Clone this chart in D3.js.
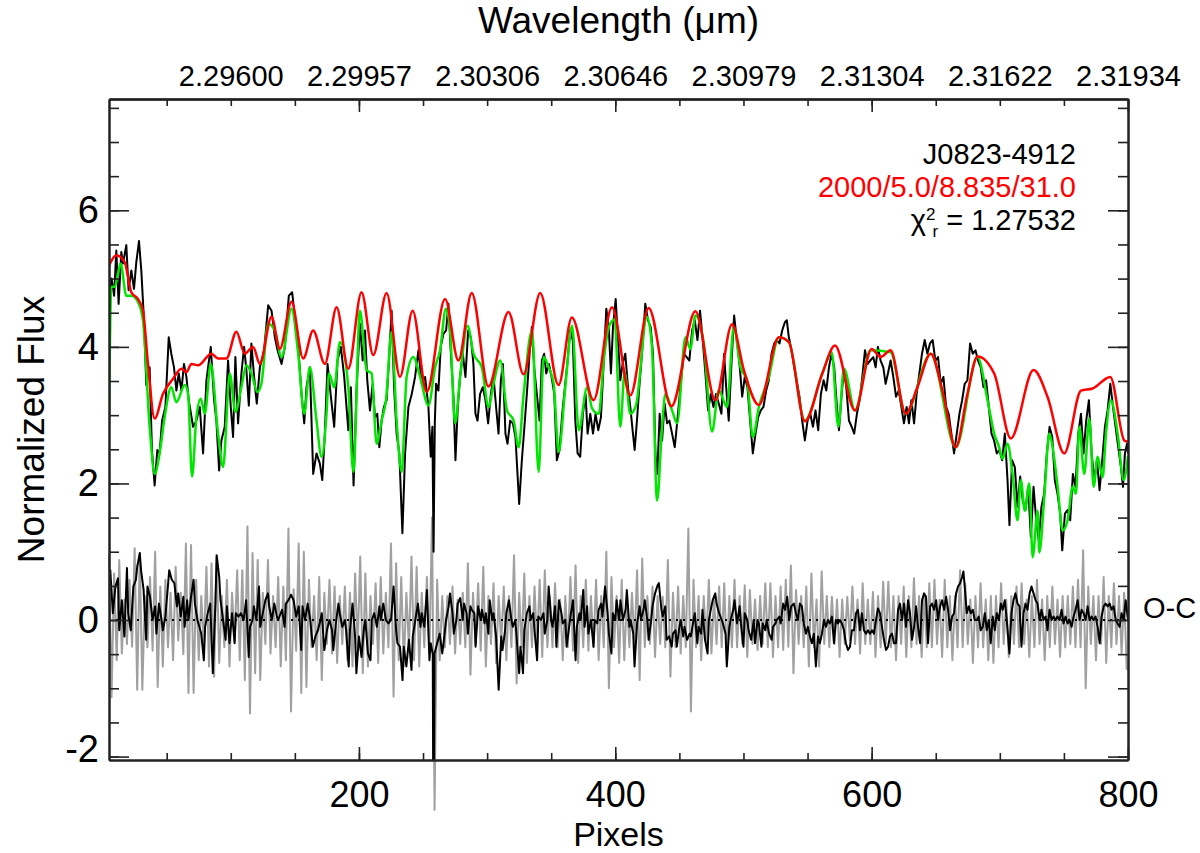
<!DOCTYPE html>
<html>
<head>
	<meta charset="utf-8">
	<title>J0823-4912 spectral fit</title>
	<style type="text/css">
		body{ margin:0; background:#fff; }
		.spec text{ font-family:"Liberation Sans", Arial, Helvetica, sans-serif; fill:#000; }
	</style>
</head>
<body>

	<svg width=1200 height=853 class="spec"></svg>
	<script type="text/javascript" src="https://cdn.jsdelivr.net/npm/d3@7/dist/d3.min.js"></script>
	<script type="text/javascript">

		// ---- axis set-up values ----
		pixelDomain = [5, 800]
		fluxDomain = [-2.05, 7.63]
		pixelMajor = [200, 400, 600, 800]
		fluxMajor = [-2, 0, 2, 4, 6]
		topLabelPixels = [100, 200, 300, 400, 500, 600, 700, 800]
		topLabelWaves = ['2.29600', '2.29957', '2.30306', '2.30646', '2.30979', '2.31304', '2.31622', '2.31934']

		// ---- text ----
		objectName = 'J0823-4912'
		modelParams = '2000/5.0/8.835/31.0'
		chiValue = '1.27532'

		// ---- series : [pixel, normalized flux] ----
		modelRed = [[5,5.19],[10.7,5.34],[17.2,5.24],[22.4,4.8],[27.6,4.7],[31.5,4.53],[35.4,3.75],[40.6,2.95],[47.1,3.31],[54.9,3.53],
			[61.5,3.68],[65.4,3.63],[69.3,3.75],[74.5,3.73],[84.9,3.9],[90.1,3.83],[96.6,3.83],[104.4,4.22],[110.9,3.9],[117.4,4.0],
			[122.7,3.75],[131.8,4.44],[138.3,3.97],[147.4,4.66],[156.5,3.83],[164.3,4.24],[173.4,3.75],[182.6,4.58],[191.7,3.68],[202,4.8],
			[211.2,3.88],[221.6,4.79],[232,3.56],[241.9,4.53],[252.9,3.34],[267.2,4.7],[277.6,3.8],[288,4.79],[301,3.42],[316.7,4.51],
			[328.4,3.6],[341.4,4.79],[355.7,3.44],[366.1,4.43],[383.1,3.22],[397.4,4.58],[411.7,3.29],[426,4.57],[443.8,3.13],[462.5,4.52],
			[478.1,3.22],[491.1,4.33],[500.3,3.66],[512,3.15],[527.6,4.14],[535.4,4.07],[547.9,2.91],[561.5,3.61],[571.4,4.02],[587,3.07],
			[600,3.97],[607,3.85],[614.8,3.95],[626.5,3.02],[635.7,3.41],[646.1,3.9],[655.2,3.36],[665.6,2.53],[674.7,3.31],[682.6,3.86],
			[695.6,3.61],[708.6,2.66],[726.3,3.66],[737.2,3.27],[750.3,2.44],[763.3,3.36],[772.4,3.39],[786.2,3.56],[797.1,2.63],[800,2.61]]

		fitGreen = [[5,2.88],[6.8,4.88],[9.4,4.88],[14.1,5.22],[18.5,4.75],[22.4,4.75],[27.6,4.66],[31.5,4.39],[36.7,2.83],[40.6,2.14],
			[44.5,2.44],[48.4,2.97],[53.6,3.41],[57.6,3.19],[64.1,3.44],[66.7,3.31],[69.8,2.1],[73.2,2.97],[76.6,3.24],[79.7,3.02],
			[84.4,3.75],[90.1,2.73],[94,2.24],[99.2,3.61],[103.6,3.05],[108.3,3.41],[112.2,3.73],[116.1,3.61],[120.8,3.34],[123.9,3.46],
			[129.2,4.34],[134.4,4.24],[139.6,3.85],[147.4,4.56],[152.6,3.9],[157.3,3.02],[161.7,3.7],[166.9,2.92],[170.8,2.39],[174.7,3.02],
			[176.6,3.61],[180.7,3.41],[185.2,4.07],[191.7,3.41],[195.6,2.17],[200.8,4.53],[206,3.66],[209.9,3.61],[213.8,2.58],[217.7,2.92],
			[221.1,3.22],[225.5,4.22],[229.4,2.92],[233.3,2.17],[237.2,3.56],[242.4,3.85],[247.7,3.56],[254.2,3.14],[259.4,3.7],[263.3,3.95],
			[267.8,4.56],[271.1,4.24],[275,2.88],[278.9,3.56],[284.7,4.31],[289.4,3.9],[295.9,3.7],[301.1,3.12],[305,3.46],[310.2,3.8],
			[315.5,3.07],[320.7,2.92],[324.6,2.53],[328.5,3.31],[335,4.24],[340.2,2.17],[344.1,3.85],[348,3.7],[351.9,3.46],[355.8,2.46],
			[361,3.41],[366.3,4.31],[371.5,2.78],[378,3.41],[381.9,3.1],[387.1,3.02],[391,3.8],[394.9,4.29],[399.5,4.4],[403.9,2.83],
			[407.3,3.63],[411.7,3.02],[416.1,3.14],[424.7,4.44],[428.6,4.0],[432.6,1.75],[436.5,2.83],[439.1,3.31],[444.3,3.07],[448.2,2.88],
			[454.7,4.14],[458.6,3.97],[462.5,4.46],[469,4.05],[475.5,2.76],[480.7,3.36],[487.2,3.12],[492.4,4.29],[497.7,3.7],[502.9,3.51],
			[507.3,2.68],[512,3.12],[519.8,3.56],[527.6,4.14],[535.4,4.07],[547.9,2.92],[561.5,3.61],[568.8,3.92],[574,2.83],[578.4,3.68],
			[587,3.07],[599.2,3.95],[614.8,3.92],[626.5,3.02],[646.1,3.9],[665.6,2.53],[682.6,3.85],[690.4,3.22],[695.6,2.73],[699.5,2.53],
			[702.1,2.36],[706,2.58],[709.9,2.14],[713.8,1.46],[716.4,2.05],[719.5,1.6],[723,2.0],[725.6,0.92],[729.5,1.6],[730.8,0.99],
			[734.7,1.8],[738.6,2.73],[741.2,2.53],[745.1,1.95],[749,1.31],[752.9,1.46],[756.8,1.95],[759.4,1.85],[762,2.83],[765.9,2.14],
			[769.8,2.95],[773.2,1.95],[776.3,2.39],[780.2,2.09],[782.8,2.73],[786.7,3.22],[791.9,2.73],[796.6,2.05],[800,2.4]]

		observed = [[5,4.7],[7,5.0],[9,4.75],[10.7,5.41],[12.5,4.63],[14.6,5.39],[15.9,5.22],[18.5,5.49],[20.3,4.83],[22.4,5.12],
			[24.5,4.85],[26.3,5.24],[28.4,5.55],[30.2,5.12],[32.3,4.39],[34.1,3.44],[36.7,3.7],[38.5,2.49],[40.6,1.97],[42.7,2.49],
			[44.5,2.44],[46.4,2.92],[49,3.12],[51.6,4.14],[53.6,3.9],[55.7,3.7],[57.6,3.36],[59.4,3.61],[61.5,3.36],[63.5,3.75],
			[65.4,3.56],[67.2,3.22],[70.6,2.83],[73.2,2.92],[75.8,3.12],[78.4,2.44],[81,3.51],[84.4,4.0],[87,3.22],[88.8,2.92],
			[90.9,2.19],[92.7,2.63],[95.3,2.83],[97.9,3.8],[100,3.12],[101.8,2.68],[103.6,3.85],[105.7,2.88],[108.3,3.61],[110.4,4.0],
			[112.2,3.66],[114.1,3.14],[116.1,4.05],[118.2,3.56],[120.3,3.17],[122.7,3.7],[126,3.95],[129.2,4.61],[131.8,4.53],[134.4,4.14],
			[136.5,3.95],[139.6,3.75],[142.2,4.0],[145.3,4.75],[147.9,4.8],[150,4.44],[152.6,4.0],[155.2,3.31],[157.3,2.88],[159.1,3.41],
			[161.7,3.7],[164.3,2.14],[166.9,2.44],[169.5,2.29],[171.4,2.05],[173.4,2.73],[175.5,3.75],[178.1,3.27],[180.7,2.83],[183.3,3.8],
			[185.9,4.0],[188.5,3.56],[191.7,2.78],[193.7,3.41],[195.8,1.97],[198.2,3.41],[200.8,4.34],[202.9,3.8],[204.7,4.24],[206.5,3.51],
			[208.6,3.07],[210.7,3.46],[212.5,2.97],[214.3,3.02],[215.9,2.53],[217.7,2.92],[219.5,3.12],[221.6,3.22],[223.7,3.9],[225.5,4.53],
			[227.4,3.41],[229.4,2.73],[231.5,2.44],[233.9,1.27],[236,2.44],[238.6,3.12],[241.2,3.31],[243.8,3.56],[246.4,3.95],[249,3.46],
			[251.6,3.56],[254.2,3.12],[256,2.39],[257.3,2.83],[258.2,1.0],[259.2,2.9],[260.2,3.46],[262,3.36],[263.8,4.0],[265.9,4.19],
			[268,4.24],[269.8,4.63],[271.6,3.95],[273.7,3.27],[275.3,2.34],[277.1,3.12],[278.9,3.56],[281,3.9],[283.1,3.56],[285.2,4.24],
			[287.3,4.14],[289.3,3.75],[290.9,3.02],[292.5,2.92],[294.5,3.31],[296.6,3.41],[298.7,3.22],[300.8,2.88],[302.9,3.31],[305,3.56],
			[307,3.12],[308.9,2.73],[310.7,3.51],[312.3,3.75],[314.3,2.73],[315.9,2.58],[318,2.92],[320.1,2.88],[322.1,2.68],[325,1.7],
			[327.1,2.34],[328.9,2.78],[331,3.31],[333.1,3.9],[334.9,4.29],[336.7,3.7],[338.8,3.31],[340.9,2.92],[342.7,3.8],[344.5,3.9],
			[346.1,3.61],[348.2,3.75],[350.3,3.56],[352.4,3.31],[354.4,2.34],[356.5,2.49],[358.6,3.02],[360.7,3.41],[362.8,3.8],[364.8,4.24],
			[366.9,4.09],[368.8,2.92],[370.6,2.44],[372.6,2.39],[374.7,3.02],[376.8,3.31],[378.4,2.73],[380.5,3.02],[382.6,2.73],[384.6,3.02],
			[386.7,2.78],[388.8,2.97],[390.9,3.75],[393,4.56],[395,4.24],[396.6,3.61],[398.2,4.29],[400.3,4.7],[402.1,4.1],[403.9,3.51],
			[405.7,3.75],[407.8,3.9],[409.9,3.41],[411.7,3.12],[413.5,2.78],[415.1,2.49],[416.9,2.92],[418.7,3.41],[420.8,3.9],[423.4,4.63],
			[425.5,4.39],[427.6,4.29],[429.4,3.9],[431.3,2.44],[432.8,2.14],[434.6,3.02],[436.5,2.63],[438.5,3.17],[440.4,2.88],[442.2,2.92],
			[444.3,2.73],[446.4,2.53],[448.4,2.92],[450.8,3.41],[453.4,3.9],[455.7,3.85],[457.8,3.8],[459.9,4.24],[462,4.39],[464.1,4.1],
			[466.1,4.53],[468.2,4.1],[470.3,3.61],[472.4,3.07],[474.5,3.31],[476.6,3.12],[478.6,3.31],[480.7,3.17],[482.8,3.02],[484.9,3.9],
			[486.5,3.41],[488.5,2.92],[490.6,3.75],[492.7,4.46],[494.8,4.1],[496.9,3.75],[499,3.27],[501,3.56],[503.1,3.41],[505.2,2.92],
			[507.3,2.44],[509.4,2.73],[511.5,2.97],[513.5,3.07],[515.6,3.12],[517.7,3.36],[519.8,3.51],[521.9,3.9],[524,4.05],[526,4.1],
			[528.1,4.05],[530.2,4.24],[532.3,4.36],[533.8,4.39],[535.4,4.14],[537.5,3.95],[539.6,3.7],[541.9,3.46],[543.7,3.27],[545.8,2.92],
			[547.9,2.63],[550,2.92],[552.1,3.02],[554.2,2.83],[556.2,3.07],[558.3,2.78],[560.4,3.31],[562.5,3.51],[564.6,3.36],[566.7,3.7],
			[568.7,3.9],[570.8,3.7],[572.9,3.12],[574.5,2.78],[576.6,3.31],[578.4,3.68],[580.2,3.41],[582.3,2.92],[584.4,2.83],[586.4,2.73],
			[588.5,3.02],[590.6,3.22],[592.7,3.56],[594.8,3.95],[596.9,3.75],[598.9,3.8],[601.3,3.85],[603.1,3.7],[604.9,4.0],[607,3.8],
			[609.1,3.7],[610.9,3.46],[612.7,3.61],[614.8,3.8],[616.9,3.56],[619,3.27],[621.1,3.36],[623.2,3.12],[625.2,2.88],[627.3,3.12],
			[629.1,2.88],[631,3.22],[633.1,2.88],[635.1,3.31],[637.2,3.61],[639.3,3.9],[641.4,4.1],[643.5,3.9],[645.5,4.05],[647.6,4.1],
			[649.7,3.8],[651.8,3.85],[653.9,3.46],[656,3.56],[658.1,3.12],[660.1,3.02],[662.2,2.73],[664.3,2.44],[666.4,2.73],[668.5,3.02],
			[670.6,3.22],[672.6,3.46],[674.7,3.51],[676.8,4.05],[678.9,3.9],[681,3.95],[683,3.8],[685.1,3.7],[687.2,3.41],[689.3,3.51],
			[691.4,3.12],[693.5,2.73],[695.5,2.63],[697.6,2.44],[699.7,2.49],[701.8,2.34],[703.9,2.73],[706,2.05],[707.5,1.39],[709.6,2.34],
			[711.7,2.24],[713.8,1.66],[715.9,2.1],[717.9,1.75],[720,1.61],[722.1,1.95],[724.2,1.22],[726.3,1.95],[728.4,1.46],[730.4,1.17],
			[732.5,1.66],[734.6,1.85],[736.7,2.44],[738.8,2.83],[740.9,2.68],[742.9,2.05],[745,1.85],[747.1,1.56],[748.7,1.02],[750.8,1.56],
			[752.8,1.61],[754.9,1.46],[757,2.14],[759.1,1.95],[761.2,2.73],[763.3,3.02],[765.3,2.44],[767.4,2.92],[769.5,3.22],[771.6,2.44],
			[773.7,2.05],[775.8,2.34],[777.8,1.9],[779.9,2.34],[782,2.83],[784.1,3.07],[786.2,3.46],[788.3,3.12],[790.3,2.83],[792.4,2.53],
			[794.5,2.24],[796.1,1.95],[797.6,2.44],[799.2,2.58],[800,2.44]]

		// observed minus best fit (black O-C)
		residBlack = [[5,0.54],[6,0.73],[8,0.1],[10,0.49],[12,0.61],[13,-0.15],[15,0.29],[17,-0.24],[19,0.76],[20,0.1],
			[22,-0.15],[24,0.49],[26,0.59],[27,0.78],[29,0.98],[30,0.73],[32,0.44],[34,-0.29],[35,0.49],[37,0.34],
			[39,0],[41,0.2],[42,-0.2],[44,0.24],[46,0],[47,-0.15],[49,0.05],[52,0.73],[54,0.59],[56,0.54],
			[58,0.2],[59,0.39],[61,0.05],[63,0.34],[64,-0.1],[66,0.29],[67,0],[69,0.34],[71,0.59],[72,0.24],
			[74,0],[77,-0.2],[79,-0.59],[80,-0.1],[82,0.1],[84,0.24],[86,-0.78],[88,0.24],[89,0.95],[91,0.63],
			[92,0.29],[94,0],[96,-0.29],[97,0.2],[99,-0.34],[101,0.1],[103,-0.34],[104,0.1],[106,0.05],[108,0.1],
			[110,0],[112,0.29],[114,-0.54],[115,-0.1],[117,0],[118,0.2],[120,0],[122,0.49],[123,-0.1],[125,0.1],
			[127,0.29],[129,0.39],[130,0.2],[132,0],[134,0.24],[136,0.05],[137,0],[140,0.15],[142,-0.1],[143,0.24],
			[145,0.29],[147,0.37],[149,0.29],[151,0.05],[153,0.2],[155,-0.44],[156,0.2],[158,0],[160,0.24],[162,0],
			[164,-0.39],[166,-0.24],[168,-0.15],[170,0],[171,0.1],[173,-0.44],[175,-0.15],[177,0],[179,-0.15],[180,-0.44],
			[182,-0.05],[184,0.24],[185,0.1],[187,-0.1],[189,0],[190,-0.15],[192,-0.68],[193,-0.15],[195,0.24],[197,-0.24],
			[198,-0.78],[200,-0.24],[202,-0.54],[204,-0.1],[205,0],[207,-0.49],[209,-0.59],[210,0],[212,0.1],[214,-0.1],
			[216,0.2],[217,0],[219,0.24],[221,0],[223,-0.05],[225,0],[227,0.49],[229,-0.15],[230,-0.34],[232,-0.39],
			[234,-0.88],[235,-0.39],[237,-0.68],[239,-0.29],[241,-0.73],[242,-0.24],[244,0],[246,0.24],[248,-0.1],[249,0.1],
			[251,-0.1],[253,0.44],[255,-0.59],[256,-0.34],[257.6,-0.5],[257.9,-2.3],[258.6,-2.3],[259,-0.49],[261,-0.34],[263,-0.2],
			[265,-0.49],[266,-0.34],[268,0],[270,0.2],[271,0.39],[273,0.1],[274,-0.2],[276,0],[277,0.24],[279,0.32],
			[281,0],[282,0.24],[284,0.1],[285,-0.2],[287,0.2],[288,0.15],[290,0.1],[291,-0.39],[293,0.2],[295,0],
			[296,0.15],[298,-0.05],[299,0.1],[301,-0.2],[302,0.29],[304,0],[305,0.1],[307,-0.24],[309,-1.02],[311,-0.24],
			[312,-0.44],[314,-0.15],[315,0.1],[317,0.29],[319,0],[320,-0.1],[322,0],[323,-0.24],[325,-0.78],[326,-0.39],
			[328,-0.78],[329,-0.15],[331,0.1],[333,0.2],[334,0],[336,0.1],[337,-0.15],[339,-0.59],[340,0.05],[342,0],
			[344,0.1],[345,-0.2],[347,0],[348,0.49],[350,0],[351,-0.1],[353,0.2],[354,-0.39],[356,0.29],[358,0.1],
			[359,-0.05],[361,0],[362,-0.39],[364,-0.1],[365,0.05],[367,0.29],[369,-0.59],[370,-0.1],[372,0.1],[373,0],
			[375,0.44],[376,-0.1],[378,0.2],[379,-0.2],[381,0],[383,-0.39],[384,0],[386,-0.05],[387,0.15],[389,0.24],
			[390,0.05],[392,0.49],[394,0.1],[395,-0.2],[397,-0.49],[398,0.1],[400,0],[401,0.29],[403,0],[404,0.29],
			[406,0],[408,0.15],[409,0.44],[411,-0.1],[412,0],[414,-0.2],[415,-0.68],[417,-0.05],[419,0.2],[420,0],
			[422,0.15],[423,0.29],[425,0],[426,-0.29],[428,0],[429,0.2],[431,0.39],[433,0.51],[434,0.54],[436,0.15],
			[437,0.05],[439,0.2],[440,-0.29],[442,-0.24],[444,-0.39],[445,-0.2],[447,-0.15],[448,-0.39],[450,-0.1],[451,0],
			[453,-0.24],[454,-0.1],[456,-0.29],[458,-0.2],[459,-0.24],[461,0],[462,0.1],[464,-0.34],[465,-0.1],[467,-0.2],
			[468,0.15],[470,-0.29],[472,-0.49],[473,0],[475,0.2],[476,0.29],[478,0.39],[479,0.24],[481,0.1],[483,0],
			[484,-0.05],[486,-0.2],[487,-0.68],[489,-0.1],[490,0],[492,0.15],[493,0.29],[495,-0.05],[497,0.2],[498,-0.05],
			[500,-0.39],[501,0.1],[503,0],[504,-0.15],[506,-0.29],[508,0],[509,-0.34],[511,0],[512,-0.05],[514,-0.39],
			[515,-0.05],[517,-0.15],[518,0],[520,-0.2],[522,-0.29],[523,-0.1],[525,-0.05],[526,0],[528,0.05],[529,-0.05],
			[531,0.24],[532.5,0.15],[534.1,0.34],[535.7,0],[537.2,0.2],[539.3,0.24],[540.9,0.1],[542.4,0],[544,0.24],[545.6,0.2],
			[547.1,-0.05],[548.7,-0.2],[550.3,-0.1],[551.8,-0.24],[553.4,-0.34],[554.9,-0.2],[556.5,-0.68],[558.1,-0.24],[559.6,-0.34],[561.2,-0.2],
			[562.8,0],[564.3,-0.1],[565.9,0],[567.4,-0.05],[569,0.05],[570.6,-0.34],[572.1,0],[573.7,-0.05],[575.3,0],[576.8,-0.05],
			[578.4,-0.15],[579.9,-0.34],[581.5,-0.44],[583.1,-0.39],[584.6,-0.15],[586.2,-0.15],[587.8,0.1],[589.3,0.15],[590.9,-0.15],[592.4,0.1],
			[594,-0.15],[595.6,-0.2],[597.1,-0.15],[598.7,-0.2],[600.3,-0.15],[601.8,-0.2],[603.4,0],[604.9,0.17],[606.5,0.1],[608.1,-0.1],
			[609.6,-0.29],[611.2,-0.44],[612.8,-0.39],[614.3,-0.24],[615.9,-0.2],[617.4,-0.34],[619,-0.34],[620.6,0.15],[622.1,0.24],[623.7,0],
			[625.3,0.24],[626.8,-0.1],[628.4,0.29],[629.9,0.1],[631.5,-0.29],[633.1,-0.1],[634.6,0.2],[636.2,-0.1],[637.8,-0.34],[639.3,0.29],
			[640.9,0.39],[642.4,0.34],[644,-0.34],[645.6,0.2],[647.1,0.24],[648.7,0.15],[650.3,0.29],[651.8,0],[653.4,0.2],[654.9,0.29],
			[656.5,0.15],[658.1,0.34],[659.6,0.15],[661.2,-0.15],[662.8,0.05],[664.3,0.1],[665.9,0.39],[667.4,0.49],[669,0.54],[670.6,0.63],
			[671.6,0.71],[672.6,0.49],[674.2,0.1],[675.8,0.2],[677.3,0.1],[678.9,0.15],[680.4,0],[682,0],[683.6,0.05],[685.1,-0.15],
			[686.7,-0.1],[688.3,0.1],[689.8,-0.15],[691.4,0],[692.9,-0.34],[694.5,0.05],[696.1,-0.15],[697.6,0.1],[699.2,0],[700.8,0.24],
			[702.3,0.15],[703.9,0.29],[705.4,0],[707.5,-0.49],[709.1,0.1],[710.7,0.29],[712.2,0.39],[713.8,0.24],[715.4,0.2],[716.9,-0.39],
			[718.5,0.1],[720,0.24],[721.6,0.15],[723.2,0.39],[724.7,0.49],[726.3,0.39],[727.9,0.29],[729.4,0.24],[731,0],[732.5,0.15],
			[734.1,0],[735.7,0.05],[737.2,-0.15],[738.8,0.15],[740.4,0],[741.9,0.05],[743.5,0],[745,0.05],[746.6,0],[748.2,0.15],
			[749.7,-0.05],[751.3,0.05],[752.9,-0.05],[754.4,0],[756,-0.1],[757.5,0.05],[759.1,0.15],[760.7,0.29],[762.2,0],[763.8,0.15],
			[765.4,0.1],[766.9,0],[768.5,0.2],[770,0],[771.6,0.05],[773.2,0],[774.7,0.05],[776.3,-0.1],[777.9,-0.34],[779.4,0.05],
			[781,0.2],[782.5,0.24],[784.1,0.2],[785.7,0.24],[787.2,0.15],[788.8,0.2],[790.4,0],[791.9,-0.05],[793.5,-0.1],[795,0.1],
			[796.6,0],[798.2,0.29],[800,0]]

		// grey O-C, one value every 2 pixels starting at pixel 5
		residGrayStart = 5
		residGrayStep = 2
		residGray = [
			0.95,-1.13,0.68,-0.59,0.88,-0.49,0.3,-0.35,0.59,-0.39,1.05,-1.02,0.98,-1.02,0.35,-0.4,0.63,-0.45,1.0,-0.98,
			0.49,-0.68,0.59,-0.4,0.4,-0.59,0.78,-0.3,0.4,-0.5,1.12,-1.07,1.1,-1.07,0.59,-0.59,0.35,-0.4,0.78,-0.68,
			0.83,-0.83,0.93,-0.63,0.35,-0.4,0.59,-0.68,0.4,-0.3,0.73,-0.59,0.73,-0.88,1.37,-1.37,0.98,-0.78,0.88,-0.88,
			0.4,-0.35,0.88,-0.49,0.35,-0.4,0.63,-0.68,0.49,-0.59,1.34,-1.34,0.45,-0.45,1.12,-1.07,1.0,-0.98,0.59,-0.4,
			0.35,-0.59,0.63,-0.88,0.4,-0.35,0.59,-0.49,0.49,-0.63,0.35,-0.35,0.49,-0.59,0.4,-0.68,0.68,-0.4,0.93,-0.78,
			0.68,-0.68,0.35,-0.35,0.54,-0.63,0.63,-0.49,0.4,-0.4,1.12,-1.12,0.83,-0.59,0.63,-0.68,0.4,-0.4,0.93,-0.59,
			0.78,-0.68,0.4,-0.4,0.63,-0.49,1.5,-2.78,0.59,-0.59,0.35,-0.4,0.35,-0.35,0.49,-0.49,0.3,-0.35,0.4,-0.4,
			0.83,-0.8,0.4,-0.35,0.54,-0.45,0.78,-0.68,0.35,-0.35,0.54,-0.63,0.35,-0.35,0.49,-0.59,0.35,-0.4,0.95,-0.93,
			0.4,-0.4,0.68,-0.63,0.35,-0.4,0.49,-0.4,0.59,-0.54,0.73,-0.4,0.35,-0.4,0.54,-0.4,0.3,-0.59,0.35,-0.4,
			0.63,-0.45,0.8,-0.63,0.35,-0.4,0.59,-0.45,0.35,-0.4,0.59,-0.59,0.35,-0.4,1.0,-1.0,0.63,-0.4,0.35,-0.63,
			0.59,-0.59,0.35,-0.4,0.4,-0.35,0.73,-0.88,0.9,-0.4,0.35,-0.35,0.49,-0.54,0.35,-0.35,0.34,-0.4,0.88,-0.83,
			0.4,-0.4,0.49,-0.49,0.35,-0.4,1.34,-1.34,0.59,-0.4,0.35,-0.59,0.35,-0.35,0.59,-0.49,0.35,-0.35,0.49,-0.4,
			0.54,-0.59,0.35,-0.4,0.59,-0.4,0.35,-0.35,0.51,-0.54,0.44,-0.35,0.3,-0.44,0.35,-0.35,0.54,-0.4,0.54,-0.54,
			0.35,-0.4,0.49,-0.44,0.59,-0.39,0.8,-0.78,0.44,-0.35,0.35,-0.4,0.49,-0.68,0.68,-0.4,0.3,-0.68,0.71,-0.35,
			0.35,-0.4,0.34,-0.35,0.3,-0.54,0.3,-0.35,0.34,-0.3,0.49,-0.35,0.3,-0.49,0.54,-0.35,0.3,-0.35,0.41,-0.54,
			0.35,-0.4,0.56,-0.35,0.56,-0.4,0.35,-0.59,0.35,-0.35,0.49,-0.54,0.35,-0.4,0.61,-0.35,0.35,-0.54,0.35,-0.4,
			0.54,-0.4,0.59,-0.35,0.3,-0.54,0.59,-0.4,0.35,-0.59,0.35,-0.4,0.73,-0.4,0.54,-0.35,0.3,-0.63,0.35,-0.4,
			0.54,-0.4,0.3,-0.59,0.35,-0.63,0.35,-0.4,0.54,-0.35,0.3,-0.54,0.35,-0.35,0.49,-0.4,0.54,-0.35,0.3,-0.54,
			0.35,-0.4,0.59,-0.35,0.3,-0.59,0.35,-0.4,0.49,-0.35,0.3,-0.54,0.35,-0.4,0.35,-0.35,0.49,-0.4,0.59,-0.4,
			1.02,-1.0,0.49,-0.35,0.35,-0.59,0.35,-0.35,0.63,-0.63,0.35,-0.4,0.54,-0.35,0.35,-0.49,0.4,-0.73]

		// ---- layout ----
		box = {'left':109, 'right':1128, 'top':99, 'bottom':760}
		svg_ele = '.spec'
		fontFam = '"Liberation Sans", Arial, Helvetica, sans-serif'

		svg = d3.select(svg_ele)

		x = d3.scaleLinear().domain(pixelDomain).range([box.left, box.right])
		y = d3.scaleLinear().domain(fluxDomain).range([box.bottom, box.top])

		pixelMinor = d3.range(50, 801, 50)
		fluxMinor = d3.range(-4, 16).map(function(k){ return k / 2 })

		svg.append('defs').append('clipPath').attr('id', 'plot-clip')
			.append('rect')
			.attr('x', box.left).attr('y', box.top)
			.attr('width', box.right - box.left).attr('height', box.bottom - box.top)

		straight = d3.line().x(function(d){ return x(d[0]) }).y(function(d){ return y(d[1]) })
		smooth = d3.line().x(function(d){ return x(d[0]) }).y(function(d){ return y(d[1]) }).curve(d3.curveMonotoneX)

		function drawSeries(parent, data, gen, colour, width){
			parent.append('path')
				.datum(data)
				.attr('d', gen)
				.attr('fill', 'none')
				.attr('stroke', colour)
				.attr('stroke-width', width)
				.attr('stroke-linejoin', 'round')
		}

		// grey residual is drawn without clipping (its glitch runs below the frame)
		grayPoints = residGray.map(function(v, i){ return [residGrayStart + i * residGrayStep, v] })
		drawSeries(svg, grayPoints, straight, '#a0a0a0', 2)

		plotG = svg.append('g').attr('clip-path', 'url(#plot-clip)')

		plotG.append('line')
			.attr('x1', x(pixelDomain[0])).attr('x2', x(pixelDomain[1]))
			.attr('y1', y(0)).attr('y2', y(0))
			.attr('stroke', '#000')
			.attr('stroke-width', 2)
			.attr('stroke-dasharray', '2,5')

		drawSeries(plotG, residBlack, straight, '#000', 2)
		drawSeries(plotG, observed, straight, '#000', 2)
		drawSeries(plotG, fitGreen, smooth, '#00e600', 2.5)
		drawSeries(plotG, modelRed, smooth, '#ff0000', 2.5)

		// ---- axes (ticks point inwards on all four sides) ----
		function tidy(g, size){
			g.attr('font-family', fontFam).attr('font-size', size)
			g.select('.domain').attr('stroke', '#222').attr('stroke-width', 2)
			g.selectAll('.tick line').attr('stroke', '#222').attr('stroke-width', 1.6)
			g.selectAll('.tick text').attr('fill', '#000')
		}

		// plain hyphen for negatives, as in the original plot
		plainNum = function(d){ return String(d) }

		svg.append('g').attr('transform', 'translate(0,' + box.bottom + ')')
			.call(d3.axisBottom(x).tickValues(pixelMinor).tickSize(-7).tickSizeOuter(0).tickFormat(''))
			.call(tidy, 36)
		svg.append('g').attr('transform', 'translate(0,' + box.bottom + ')')
			.call(d3.axisBottom(x).tickValues(pixelMajor).tickSize(-13).tickSizeOuter(0).tickPadding(21).tickFormat(plainNum))
			.call(tidy, 36)

		svg.append('g').attr('transform', 'translate(0,' + box.top + ')')
			.call(d3.axisTop(x).tickValues(pixelMinor).tickSize(-7).tickSizeOuter(0).tickFormat(''))
			.call(tidy, 29)
		svg.append('g').attr('transform', 'translate(0,' + box.top + ')')
			.call(d3.axisTop(x).tickValues(pixelMajor).tickSize(-13).tickSizeOuter(0).tickFormat(''))
			.call(tidy, 29)
		svg.append('g').attr('transform', 'translate(0,' + box.top + ')')
			.call(d3.axisTop(x).tickValues(topLabelPixels).tickSize(0).tickSizeOuter(0).tickPadding(13)
				.tickFormat(function(d, i){ return topLabelWaves[i] }))
			.call(tidy, 29)

		svg.append('g').attr('transform', 'translate(' + box.left + ',0)')
			.call(d3.axisLeft(y).tickValues(fluxMinor).tickSize(-10).tickSizeOuter(0).tickFormat(''))
			.call(tidy, 38)
		leftAxis = svg.append('g').attr('transform', 'translate(' + box.left + ',0)')
			.call(d3.axisLeft(y).tickValues(fluxMajor).tickSize(-20).tickSizeOuter(0).tickPadding(10).tickFormat(plainNum))
			.call(tidy, 38)
		// the lowest label sits a little higher so it stays inside the frame
		leftAxis.selectAll('.tick text').filter(function(d){ return d == -2 }).attr('dy', '0.13em')

		svg.append('g').attr('transform', 'translate(' + box.right + ',0)')
			.call(d3.axisRight(y).tickValues(fluxMinor).tickSize(-10).tickSizeOuter(0).tickFormat(''))
			.call(tidy, 38)
		svg.append('g').attr('transform', 'translate(' + box.right + ',0)')
			.call(d3.axisRight(y).tickValues(fluxMajor).tickSize(-20).tickSizeOuter(0).tickFormat(''))
			.call(tidy, 38)

		// ---- titles ----
		midX = (box.left + box.right) / 2

		svg.append('text')
			.attr('x', midX).attr('y', 33)
			.attr('text-anchor', 'middle')
			.attr('font-size', 37)
			.text('Wavelength (\u03bcm)')

		svg.append('text')
			.attr('x', midX).attr('y', 845.5)
			.attr('text-anchor', 'middle')
			.attr('font-size', 34)
			.text('Pixels')

		svg.append('text')
			.attr('transform', 'translate(44,' + ((box.top + box.bottom) / 2) + ') rotate(-90)')
			.attr('text-anchor', 'middle')
			.attr('font-size', 37)
			.text('Normalized Flux')

		svg.append('text')
			.attr('x', box.right + 15).attr('y', y(0) - 2)
			.attr('font-size', 29)
			.text('O-C')

		// ---- annotation block ----
		svg.append('text')
			.attr('x', 1076).attr('y', 164)
			.attr('text-anchor', 'end')
			.attr('font-size', 29)
			.text(objectName)

		svg.append('text')
			.attr('x', 1076).attr('y', 197)
			.attr('text-anchor', 'end')
			.attr('font-size', 29)
			.style('fill', '#ff0000')
			.text(modelParams)

		chi = svg.append('text')
			.attr('x', 1076).attr('y', 230)
			.attr('text-anchor', 'end')
			.attr('font-size', 29)
		chi.append('tspan').text('\u03c7')
		chi.append('tspan').attr('font-size', 17).attr('dy', -10).text('2')
		chi.append('tspan').attr('font-size', 17).attr('dx', -3).attr('dy', 17).text('r')
		chi.append('tspan').attr('dy', -7).text(' = ' + chiValue)

	</script>

</body>
</html>
